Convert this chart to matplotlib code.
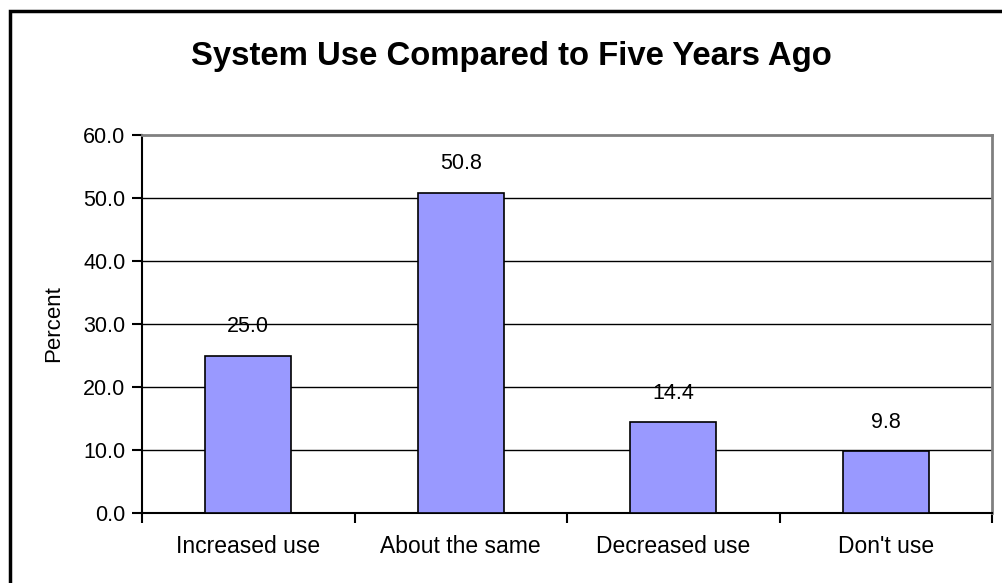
import matplotlib
matplotlib.use("Agg")
import matplotlib.pyplot as plt
from matplotlib.patches import Rectangle
import numpy as np

plt.rcParams['font.family'] = ['Liberation Sans', 'DejaVu Sans']

categories = ["Increased use", "About the same", "Decreased use", "Don't use"]
percent = [25.0, 50.8, 14.4, 9.8]
y_ticks = [0, 10, 20, 30, 40, 50, 60]

W, H = 1002, 583
fig = plt.figure(figsize=(W / 100, H / 100), dpi=100)
ax = fig.add_axes([142 / W, (H - 513) / H, (992 - 142) / W, (513 - 135) / H])

x = np.arange(len(categories))
ax.bar(x, percent, width=0.405, color="#9999FF", edgecolor="black", linewidth=1.2, zorder=3)

for xi, v in zip(x, percent):
    ax.annotate(f"{v:.1f}", (xi, v), xytext=(0, 21), textcoords="offset points",
                ha="center", va="center", fontsize=15.5)

ax.set_xlim(-0.5, len(categories) - 0.5)
ax.set_ylim(0, 60)
ax.set_yticks(y_ticks)
ax.set_yticklabels([f"{t:.1f}" for t in y_ticks])
for t in y_ticks[1:-1]:
    ax.axhline(t, color="black", linewidth=1, zorder=1)

# category boundaries carry the tick marks, names sit between them
ax.set_xticks(np.arange(len(categories) + 1) - 0.5)
ax.set_xticklabels([])
ax.set_xticks(x, minor=True)
ax.set_xticklabels(categories, minor=True, fontsize=16.5)
ax.tick_params(axis="x", which="major", direction="out", length=7, width=1.5)
ax.tick_params(axis="x", which="minor", length=0, pad=16)
ax.tick_params(axis="y", direction="out", length=7, width=1.5, labelsize=15.5, pad=5)

ax.spines["left"].set_linewidth(1.5)
ax.spines["bottom"].set_linewidth(1.5)
for side in ("top", "right"):
    ax.spines[side].set_color("#808080")
    ax.spines[side].set_linewidth(2)

ax.set_ylabel("Percent", fontsize=16)
ax.yaxis.set_label_coords(-78 / (992 - 142), 0.5)

fig.text(511 / W, 1 - 57 / H, "System Use Compared to Five Years Ago",
         ha="center", va="center", fontsize=23.7, fontweight="bold")

# chart frame, running off the right and bottom edges
fig.patches.append(Rectangle((10 / W, -0.1), 1.2, 1.1 - 11 / H, transform=fig.transFigure,
                             fill=False, edgecolor="black", linewidth=2.5, clip_on=False))

fig.savefig("out.png", dpi=100)
